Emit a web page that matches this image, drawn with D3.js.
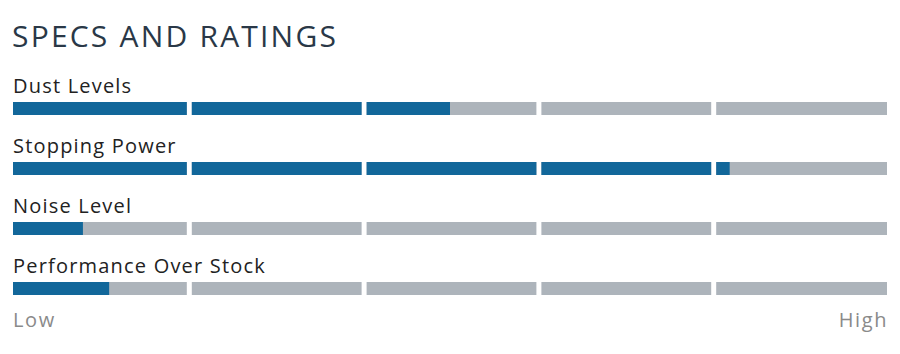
<!DOCTYPE html>
<html>
<head>
<meta charset="utf-8">
<script src="https://cdn.jsdelivr.net/npm/d3@7"></script>
<style>
  body { margin: 0; background: #fff; }
  text { font-family: "Open Sans", sans-serif; }
</style>
</head>
<body>
<div id="chart"></div>
<script>
// 항목과 값 (0~5 단계)
const categories = ["Dust Levels", "Stopping Power", "Noise Level", "Performance Over Stock"];
const ratings = [2.5, 4.1, 0.4, 0.55];
const segments = [0, 1, 2, 3, 4];
const scaleLabels = ["Low", "High"];

const width = 900;
const height = 354;
const gap = 5;
const barH = 13;

const svg = d3.select("#chart")
  .append("svg")
  .attr("width", width)
  .attr("height", height);

// x 스케일
const x = d3.scaleLinear().domain([0, 5]).range([13, 887]);
// 행 위치
const y = d3.scalePoint().domain(categories).range([102, 282]);

svg.append("text")
  .attr("x", 12)
  .attr("y", 47)
  .attr("font-size", 30)
  .attr("letter-spacing", "2.2px")
  .attr("fill", "#2a3847")
  .text("SPECS AND RATINGS");

const row = svg.selectAll(".row")
  .data(categories.map((c, i) => ({ name: c, value: ratings[i] })))
  .enter()
  .append("g")
  .attr("class", "row")
  .attr("transform", d => `translate(0,${y(d.name)})`);

row.append("text")
  .attr("x", 13)
  .attr("y", -9)
  .attr("font-size", 20)
  .attr("letter-spacing", "1.2px")
  .attr("fill", "#222")
  .text(d => d.name);

// 구간 시작/끝 (구분선은 살짝 오른쪽)
const shift = 1.5;
const segX0 = i => i > 0 ? x(i) + gap / 2 + shift : x(i);
const segX1 = i => i < 4 ? x(i + 1) - gap / 2 + shift : x(i + 1);

// 회색 배경
row.selectAll(".bg")
  .data(segments)
  .enter()
  .append("rect")
  .attr("class", "bg")
  .attr("x", i => segX0(i))
  .attr("width", i => segX1(i) - segX0(i))
  .attr("y", 0)
  .attr("height", barH)
  .attr("fill", "#adb4bb");

// 파란 채움
row.selectAll(".fill")
  .data(d => segments.map(i => ({ i, v: d.value })))
  .enter()
  .append("rect")
  .attr("class", "fill")
  .attr("x", d => segX0(d.i))
  .attr("width", d => Math.max(0, Math.min(segX1(d.i), x(d.v)) - segX0(d.i)))
  .attr("y", 0)
  .attr("height", barH)
  .attr("fill", "#12679a");

svg.append("text")
  .attr("x", 13)
  .attr("y", 327)
  .attr("font-size", 20)
  .attr("letter-spacing", "1.6px")
  .attr("fill", "#8a8a8a")
  .text(scaleLabels[0]);

svg.append("text")
  .attr("x", 888)
  .attr("y", 327)
  .attr("text-anchor", "end")
  .attr("font-size", 20)
  .attr("letter-spacing", "1.6px")
  .attr("fill", "#8a8a8a")
  .text(scaleLabels[1]);
</script>
</body>
</html>
